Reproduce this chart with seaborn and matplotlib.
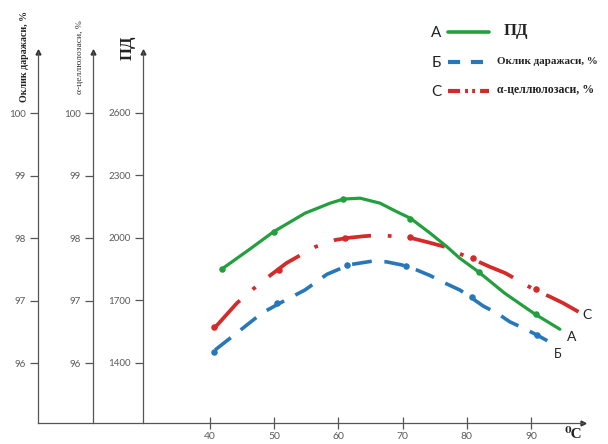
import matplotlib
matplotlib.use("Agg")
import matplotlib.pyplot as plt
import seaborn as sns
from matplotlib.lines import Line2D

# ---------------- data ----------------
# ПД (degree of polymerisation) curve
pd_x = [41.8, 46.0, 49.9, 54.8, 58.7, 60.8, 63.4, 66.5, 69.1, 71.2, 74.3, 76.9, 78.9, 81.8, 85.9, 90.6, 94.5]
pd_y = [1850, 1942, 2030, 2119, 2167, 2187, 2191, 2167, 2126, 2095, 2023, 1958, 1903, 1838, 1735, 1635, 1562]
pd_mx = [41.8, 50.0, 60.7, 71.2, 81.9, 90.7]
pd_my = [1850, 2030, 2187, 2093, 1838, 1635]

# Оклик даражаси, %
ok_x = [40.8, 44.4, 48.1, 50.9, 54.8, 58.2, 60.5, 62.1, 65.2, 67.5, 69.9, 72.2, 74.3, 76.6,
        78.9, 80.5, 82.6, 84.7, 86.7, 88.8, 90.9, 93.2]
ok_y = [96.21, 96.50, 96.80, 96.96, 97.17, 97.42, 97.52, 97.58, 97.63, 97.62, 97.57, 97.49, 97.40, 97.28,
        97.17, 97.06, 96.91, 96.80, 96.66, 96.56, 96.45, 96.32]
ok_mx = [40.6, 50.5, 61.4, 70.5, 80.8, 90.9]
ok_my = [96.18, 96.96, 97.57, 97.56, 97.05, 96.45]

# α-целлюлозаси, %
ac_x = [40.7, 44.2, 46.0, 47.8, 51.9, 54.3, 56.4, 59.5, 61.2, 63.9, 66.5, 71.4, 74.1, 76.6,
        78.9, 81.0, 83.6, 86.0, 90.6, 93.0, 95.0, 97.4]
ac_y = [96.56, 96.96, 97.12, 97.28, 97.60, 97.74, 97.86, 97.97, 98.00, 98.03, 98.05, 98.00, 97.93, 97.86,
        97.75, 97.66, 97.54, 97.44, 97.17, 97.06, 96.96, 96.82]
ac_mx = [40.6, 50.7, 61.1, 71.2, 80.9, 90.7]
ac_my = [96.57, 97.49, 98.00, 98.01, 97.68, 97.18]

x_ticks = [40, 50, 60, 70, 80, 90]
pct_ticks = [96, 97, 98, 99, 100]
pd_ticks = [1400, 1700, 2000, 2300, 2600]

# ---------------- styling ----------------
sns.set_theme(style="white")
plt.rcParams["font.family"] = ["Lato", "DejaVu Sans"]

GREEN = "#23a03d"
BLUE = "#2678b8"
RED = "#d42a2a"
AXC = "#555555"
TXC = "#5a5a5a"

fig = plt.figure(figsize=(6.08, 4.44), dpi=100)
ax = fig.add_axes([0.0625, 0.0473, 0.8964, 0.8356])
ax2 = ax.twinx()
ax3 = ax.twinx()

XL = (13.21, 98.1)
PL = (95.04, 100.98)
DL = (1400 - 0.96 * 300, 2600 + 0.976 * 300)

for a in (ax, ax2, ax3):
    a.set_xlim(*XL)
    a.patch.set_visible(False)
    for s in ("top", "right", "bottom", "left"):
        a.spines[s].set_visible(False)
    a.grid(False)

ax.set_ylim(*PL)
ax2.set_ylim(*PL)
ax3.set_ylim(*DL)

ax.spines["left"].set_visible(True)
ax.spines["bottom"].set_visible(True)
for s in ("left", "bottom"):
    ax.spines[s].set_color(AXC)
    ax.spines[s].set_linewidth(0.9)

for a, pos in ((ax2, 0.1009), (ax3, 0.1927)):
    a.spines["left"].set_visible(True)
    a.spines["left"].set_position(("axes", pos))
    a.spines["left"].set_color(AXC)
    a.spines["left"].set_linewidth(0.9)
    a.yaxis.tick_left()
    a.yaxis.set_label_position("left")

for a, t in ((ax, pct_ticks), (ax2, pct_ticks), (ax3, pd_ticks)):
    a.set_yticks(t)
    a.set_yticklabels([str(v) for v in t])
    a.tick_params(axis="y", direction="out", length=6, width=0.9, color=AXC,
                  labelsize=7, labelcolor=TXC, pad=3, left=True, right=False)

ax.set_xticks(x_ticks)
ax.set_xticklabels([str(v) for v in x_ticks])
ax.tick_params(axis="x", direction="inout", length=9, width=0.9, color=AXC,
               labelsize=7.5, labelcolor=TXC, pad=2, bottom=True)
ax2.tick_params(axis="x", bottom=False, labelbottom=False)
ax3.tick_params(axis="x", bottom=False, labelbottom=False)
ax.set_xlabel("")
ax.set_ylabel("")
ax2.set_ylabel("")
ax3.set_ylabel("")

# arrows on axes
for xpos in (0.0, 0.1009, 0.1927):
    ax.plot([xpos], [1.0], marker="^", color="#333333", markersize=3.5,
            transform=ax.transAxes, clip_on=False)
ax.plot([1.0], [0.0], marker=">", color="#333333", markersize=3.5,
        transform=ax.transAxes, clip_on=False)

# ---------------- data lines ----------------
sns.lineplot(x=ok_x, y=ok_y, ax=ax, color=BLUE, linewidth=2.6,
             linestyle=(0, (5.5, 3.5)), sort=False, estimator=None,
             dash_joinstyle="round")
sns.scatterplot(x=ok_mx, y=ok_my, ax=ax, color=BLUE, s=22, linewidth=0, zorder=3)

sns.lineplot(x=ac_x, y=ac_y, ax=ax2, color=RED, linewidth=2.7,
             linestyle=(0, (10, 4.5, 1, 4.5)), sort=False, estimator=None,
             dash_joinstyle="round")
sns.scatterplot(x=ac_mx, y=ac_my, ax=ax2, color=RED, s=22, linewidth=0, zorder=3)

sns.lineplot(x=pd_x, y=pd_y, ax=ax3, color=GREEN, linewidth=2.3,
             sort=False, estimator=None, solid_joinstyle="round")
sns.scatterplot(x=pd_mx, y=pd_my, ax=ax3, color=GREEN, s=22, linewidth=0, zorder=3)

for a in (ax, ax2, ax3):
    if a.get_legend() is not None:
        a.get_legend().remove()

# curve end labels
ax.text(98.7, 96.77, "С", fontsize=10, color="#222222", ha="center", va="center")
ax.text(96.4, 96.42, "А", fontsize=10, color="#222222", ha="center", va="center")
ax.text(94.2, 96.14, "Б", fontsize=9, color="#222222", ha="center", va="center")

serif = ["Liberation Serif", "DejaVu Serif"]

# x unit
fig.text(0.928, 0.006, "⁰C", fontsize=11, family=serif,
         fontweight="bold", color="#222222", ha="left", va="bottom")

# axis titles
fig.text(0.041, 0.874, "Оклик даражаси, %", rotation=90, fontsize=7.2,
         family=serif, fontweight="bold",
         color="#222222", ha="center", va="center")
fig.text(0.1316, 0.872, "α-целлюлозаси, %", rotation=90, fontsize=6.8,
         family=serif, color="#333333", ha="center", va="center")
fig.text(0.2105, 0.892, "ПД", rotation=90, fontsize=12,
         family=serif, fontweight="bold",
         color="#222222", ha="center", va="center")

# legend (manual)
def px(x, y):
    return x / 608.0, 1 - y / 444.0

for ypix, col, ls, lw, letter, label, fsz in (
        (32, GREEN, "-", 2.6, "А", "ПД", 12),
        (62, BLUE, (0, (2.9, 2.6)), 3.0, "Б", "Оклик даражаси, %", 8),
        (91, RED, (0, (2.9, 1.2, 0.7, 1.0, 0.7, 1.2)), 3.0, "С", "α-целлюлозаси, %", 8.5)):
    x0, y0 = px(448, ypix)
    x1, _ = px(489, ypix)
    fig.add_artist(Line2D([x0, x1], [y0, y0], color=col, linewidth=lw,
                          linestyle=ls, transform=fig.transFigure))
    lx, ly = px(436, ypix + 1)
    fig.text(lx, ly, letter, fontsize=11, color="#222222", ha="center", va="center")
    tx, ty = px(497 if label != "ПД" else 504, ypix - 1)
    fig.text(tx, ty, label, fontsize=fsz, family=serif, fontweight="bold",
             color="#222222", ha="left", va="center")

fig.savefig("out.png", dpi=100)
